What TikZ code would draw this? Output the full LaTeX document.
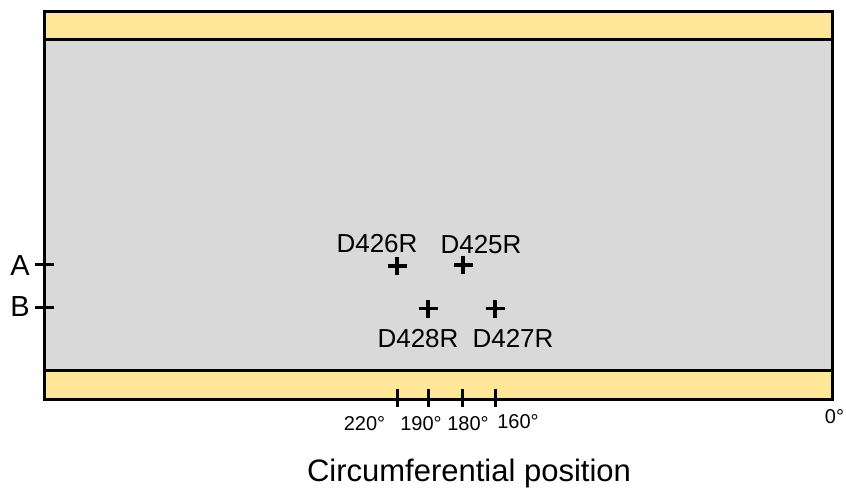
\documentclass[tikz,border=0pt]{standalone}
\usepackage{fontspec}
\setmainfont{Liberation Sans}
\definecolor{bandyellow}{HTML}{FFE699}
\definecolor{pipegrey}{HTML}{D9D9D9}
\begin{document}
\begin{tikzpicture}[x=1pt,y=-1pt,
  frame/.style={draw=black,line width=3pt},
  tick/.style={draw=black,line width=3pt},
  cross/.style={draw=black,line width=3.2pt},
  lbl/.style={anchor=base,inner sep=0pt,font=\fontsize{26}{28}\selectfont},
  deg/.style={anchor=base,inner sep=0pt,font=\fontsize{20}{22}\selectfont},
  side/.style={anchor=base,inner sep=0pt,font=\fontsize{29}{31}\selectfont},
  axis/.style={anchor=base,inner sep=0pt,font=\fontsize{31}{33}\selectfont}]
\useasboundingbox (0,0) rectangle (846,491);

% unrolled pipe wall: grey field with yellow bands top and bottom
\fill[pipegrey] (44,11) rectangle (832,399);
\fill[bandyellow] (44,11) rectangle (832,39.5);
\fill[bandyellow] (44,370.5) rectangle (832,399);
\draw[frame] (44,39.5) -- (832,39.5);
\draw[frame] (44,370.5) -- (832,370.5);
\draw[frame] (44,11) rectangle (832,399);

% axial positions A and B
\coordinate (a1) at (35,264);  \coordinate (a2) at (54,264);
\coordinate (b1) at (35,307);  \coordinate (b2) at (54,307);
\draw[tick] (a1) -- (a2);
\draw[tick] (b1) -- (b2);
\node[side] (la) at (20,275) {A};
\node[side] (lb) at (20,316) {B};

% sensor locations
\foreach \n/\x/\y in {s426/397/266, s425/463/265, s428/428/308.5, s427/495/308.5}{
  \coordinate (\n) at (\x,\y);
  \draw[cross] ([xshift=-9.5pt]\n) -- ([xshift=9.5pt]\n);
  \draw[cross] ([yshift=-9pt]\n) -- ([yshift=9pt]\n);
}
\node[lbl] (t426) at (377,252) {D426R};
\node[lbl] (t425) at (481,253) {D425R};
\node[lbl] (t428) at (418,347) {D428R};
\node[lbl] (t427) at (513,347) {D427R};

% circumferential scale on the lower edge
\foreach \n/\x in {c220/397, c190/428, c180/462, c160/495}{
  \coordinate (\n t) at (\x,389);
  \coordinate (\n b) at (\x,407);
  \draw[tick] (\n t) -- (\n b);
}
\node[deg] (d220) at (364.5,430) {220°};
\node[deg] (d190) at (421,430) {190°};
\node[deg] (d180) at (468,430) {180°};
\node[deg] (d160) at (518,428.5) {160°};
\node[deg] (d0) at (834.5,423) {0°};

\node[axis] (cap) at (469,481) {Circumferential position};
\end{tikzpicture}
\end{document}
